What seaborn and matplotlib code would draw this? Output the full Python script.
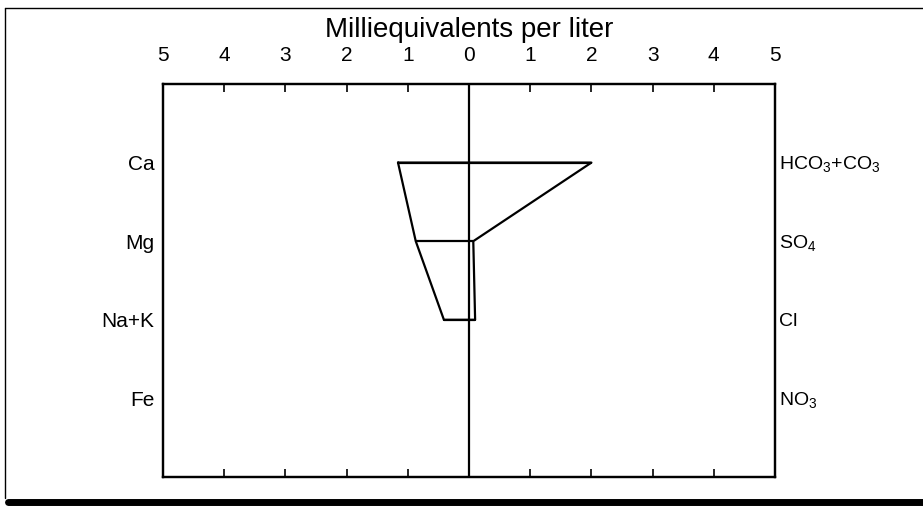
import matplotlib
matplotlib.use("Agg")
import matplotlib.pyplot as plt
import seaborn as sns
import numpy as np
import pandas as pd
from matplotlib.lines import Line2D

cations = ["Ca", "Mg", "Na+K", "Fe"]
anions = ["HCO$_3$+CO$_3$", "SO$_4$", "Cl", "NO$_3$"]
cation_meq = [1.16, 0.87, 0.41]
anion_meq = [2.0, 0.07, 0.10]
tick_values = [-5, -4, -3, -2, -1, 0, 1, 2, 3, 4, 5]
tick_labels = ["5", "4", "3", "2", "1", "0", "1", "2", "3", "4", "5"]

sns.set_theme(style="white")
plt.rcParams['font.family'] = ['Liberation Sans', 'DejaVu Sans']
plt.rcParams['text.color'] = 'black'
plt.rcParams['xtick.color'] = 'black'
plt.rcParams['ytick.color'] = 'black'
plt.rcParams['mathtext.fontset'] = 'custom'
plt.rcParams['mathtext.rm'] = 'Liberation Sans'

fig = plt.figure(figsize=(9.23, 5.07), dpi=100)
ax = fig.add_axes([163/923, 1-477/507, (775-163)/923, (477-84)/507])

n = len(cation_meq)
rows = list(range(n))
xs = [-v for v in cation_meq] + anion_meq[::-1] + [-cation_meq[0]]
ys = rows + rows[::-1] + [rows[0]]
poly = pd.DataFrame({"x": xs, "y": ys})
sns.lineplot(data=poly, x="x", y="y", sort=False, estimator=None, color="black", lw=1.6, ax=ax)
for i in rows:
    seg = pd.DataFrame({"x": [-cation_meq[i], anion_meq[i]], "y": [i, i]})
    sns.lineplot(data=seg, x="x", y="y", sort=False, estimator=None, color="black", lw=1.6, ax=ax)

ax.axvline(0, color="black", lw=1.6)
ax.set_xlim(-5, 5)
ax.set_ylim(4, -1)
ax.set_xlabel("")
ax.set_ylabel("")

ax.set_xticks(tick_values)
ax.set_xticklabels(tick_labels, fontsize=15)
ax.tick_params(axis="x", top=True, bottom=True, labeltop=True, labelbottom=False,
               direction="in", length=6, width=1.2, color="black", pad=14, labelcolor="black")
ax.set_yticks(range(len(cations)))
ax.set_yticklabels(cations, fontsize=15)
ax.tick_params(axis="y", left=False, right=False, length=0, pad=6, labelcolor="black")
ax2 = ax.twinx()
ax2.set_ylim(4, -1)
ax2.set_yticks(range(len(anions)))
ax2.set_yticklabels(anions, fontsize=14)
ax2.tick_params(axis="y", right=False, left=False, length=0, pad=3, labelcolor="black")
for a in (ax, ax2):
    for s in a.spines.values():
        s.set_color("black")
        s.set_linewidth(1.6)
ax.set_title("Milliequivalents per liter", fontsize=20, pad=34, color="black")

# outer frame
fig.add_artist(Line2D([5/923, 5/923], [1-8/507, 1-498/507], color="black", lw=1, transform=fig.transFigure))
fig.add_artist(Line2D([5/923, 1], [1-8/507, 1-8/507], color="black", lw=1, transform=fig.transFigure))
fig.add_artist(Line2D([8/923, 1], [1-502/507, 1-502/507], color="black", lw=5, transform=fig.transFigure))

fig.savefig("out.png", dpi=100)
